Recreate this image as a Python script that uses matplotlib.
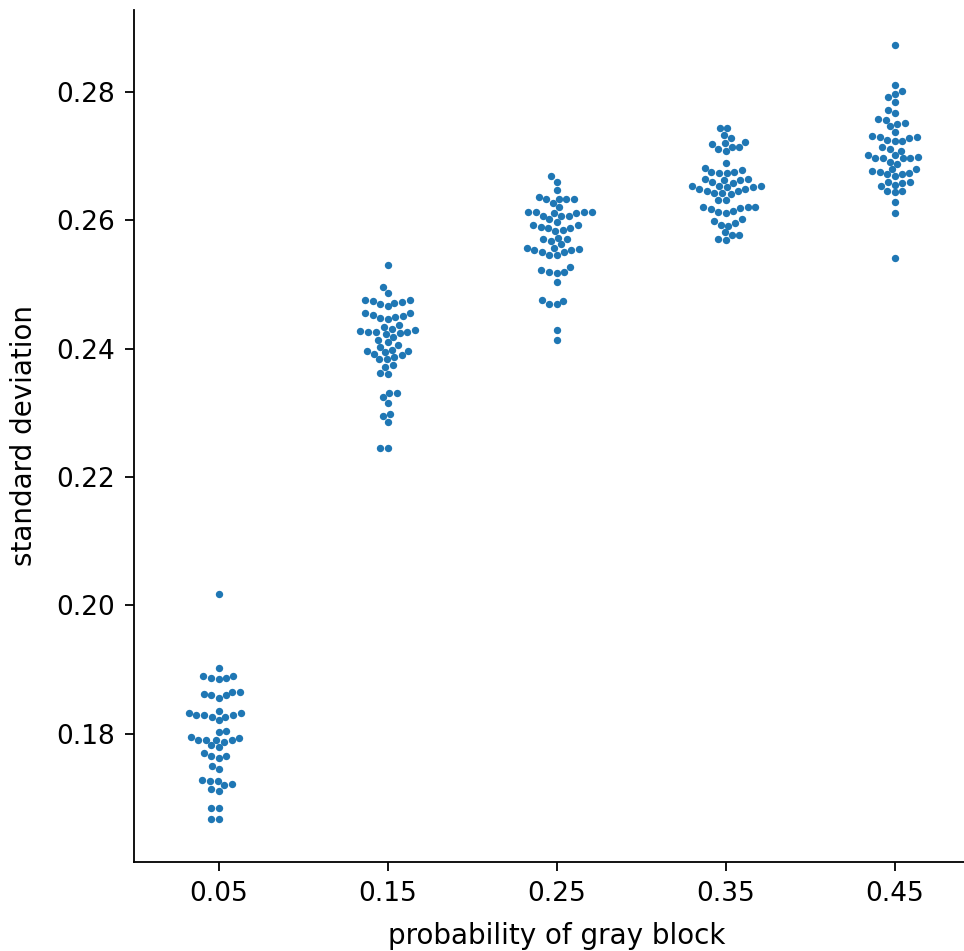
import matplotlib
matplotlib.use("Agg")
import matplotlib.pyplot as plt
import seaborn as sns
import pandas as pd

categories = ["0.05", "0.15", "0.25", "0.35", "0.45"]

sd_005 = [0.2018, 0.1902,
          0.1890, 0.1887, 0.1886, 0.1887, 0.1891,
          0.1866, 0.1866, 0.1862, 0.1860, 0.1856, 0.1860,
          0.1835, 0.1832, 0.1830, 0.1827, 0.1832, 0.1827, 0.1830, 0.1830, 0.1822,
          0.1805, 0.1803,
          0.1791, 0.1790, 0.1788, 0.1793, 0.1796, 0.1791, 0.1791, 0.1780, 0.1783,
          0.1770, 0.1765, 0.1763, 0.1765,
          0.1750, 0.1745,
          0.1728, 0.1727, 0.1722, 0.1727, 0.1715, 0.1712, 0.1720,
          0.1684, 0.1684, 0.1668, 0.1668]

sd_015 = [0.2530, 0.2496, 0.2487,
          0.2475, 0.2473, 0.2470, 0.2476, 0.2466, 0.2471, 0.2474,
          0.2450, 0.2448, 0.2452, 0.2455, 0.2446, 0.2449, 0.2456,
          0.2436, 0.2434,
          0.2427, 0.2425, 0.2423, 0.2425, 0.2429, 0.2418, 0.2424, 0.2425, 0.2431,
          0.2410, 0.2414, 0.2405, 0.2403,
          0.2398, 0.2390, 0.2396, 0.2392, 0.2396, 0.2387, 0.2394, 0.2383, 0.2384,
          0.2375, 0.2371, 0.2362, 0.2360,
          0.2331, 0.2331, 0.2324, 0.2315,
          0.2295, 0.2298, 0.2286,
          0.2245, 0.2245]

sd_025 = [0.2668, 0.2660, 0.2647,
          0.2633, 0.2633, 0.2636, 0.2633, 0.2633,
          0.2626, 0.2620,
          0.2613, 0.2612, 0.2607, 0.2611, 0.2606, 0.2607, 0.2611, 0.2613, 0.2613,
          0.2601, 0.2597,
          0.2592, 0.2588, 0.2583, 0.2585, 0.2588, 0.2589, 0.2592,
          0.2572, 0.2567, 0.2570, 0.2571,
          0.2562, 0.2557,
          0.2553, 0.2550, 0.2554, 0.2555, 0.2557,
          0.2546, 0.2546, 0.2550,
          0.2527, 0.2519, 0.2518, 0.2519, 0.2522,
          0.2504,
          0.2470, 0.2469, 0.2474, 0.2476,
          0.2429, 0.2413]

sd_035 = [0.2744, 0.2743,
          0.2733, 0.2728,
          0.2720, 0.2718, 0.2722,
          0.2714, 0.2707, 0.2711, 0.2714,
          0.2689, 0.2681,
          0.2673, 0.2675, 0.2673, 0.2675, 0.2678,
          0.2657, 0.2662, 0.2664, 0.2653, 0.2659, 0.2662, 0.2664,
          0.2648, 0.2645, 0.2653, 0.2648, 0.2646, 0.2653, 0.2651, 0.2651, 0.2640, 0.2642, 0.2642,
          0.2632, 0.2632,
          0.2621, 0.2619, 0.2614, 0.2620, 0.2613, 0.2617, 0.2621, 0.2611,
          0.2598, 0.2593, 0.2601, 0.2596, 0.2591,
          0.2581, 0.2576, 0.2576, 0.2569, 0.2571]

sd_045 = [0.2873, 0.2810,
          0.2796, 0.2801, 0.2791,
          0.2784,
          0.2771, 0.2766,
          0.2758, 0.2756, 0.2746, 0.2749, 0.2751,
          0.2737,
          0.2729, 0.2727, 0.2730, 0.2725, 0.2723, 0.2723, 0.2731,
          0.2713, 0.2710, 0.2708,
          0.2701, 0.2697, 0.2696, 0.2698, 0.2696, 0.2697, 0.2701, 0.2690, 0.2688,
          0.2676, 0.2675, 0.2674, 0.2679, 0.2671, 0.2671, 0.2680, 0.2668,
          0.2660, 0.2659, 0.2658, 0.2653, 0.2655, 0.2646, 0.2643, 0.2646,
          0.2628, 0.2611, 0.2541]

groups = [sd_005, sd_015, sd_025, sd_035, sd_045]

xlabel = "probability of gray block"
ylabel = "standard deviation"
yticks = [0.18, 0.20, 0.22, 0.24, 0.26, 0.28]

rows = []
for cat, vals in zip(categories, groups):
    for v in vals:
        rows.append((cat, v))
df = pd.DataFrame(rows, columns=["p", "sd"])

plt.rcParams["font.family"] = ["DejaVu Sans"]
plt.rcParams["font.size"] = 19

fig = plt.figure(figsize=(9.64, 9.51), dpi=100)
ax = fig.add_axes([134 / 964, 89 / 951, 845 / 964, 852 / 951])
ax.set_ylim(0.16007, 0.2927)
sns.swarmplot(data=df, x="p", y="sd", order=categories, ax=ax,
              color="#1f77b4", size=5.3, linewidth=0)
ax.set_xlim(-0.5, 4.5)
ax.set_ylim(0.16007, 0.2927)
ax.set_yticks(yticks)
ax.set_yticklabels([f"{t:.2f}" for t in yticks])
ax.set_xlabel(xlabel, fontsize=20, labelpad=11)
ax.set_ylabel(ylabel, fontsize=20, labelpad=13)
for side in ["top", "right"]:
    ax.spines[side].set_visible(False)
for side in ["left", "bottom"]:
    ax.spines[side].set_linewidth(1.3)
ax.tick_params(length=6.5, width=1.3, labelsize=19, pad=7)

fig.savefig("out.png", dpi=100)
